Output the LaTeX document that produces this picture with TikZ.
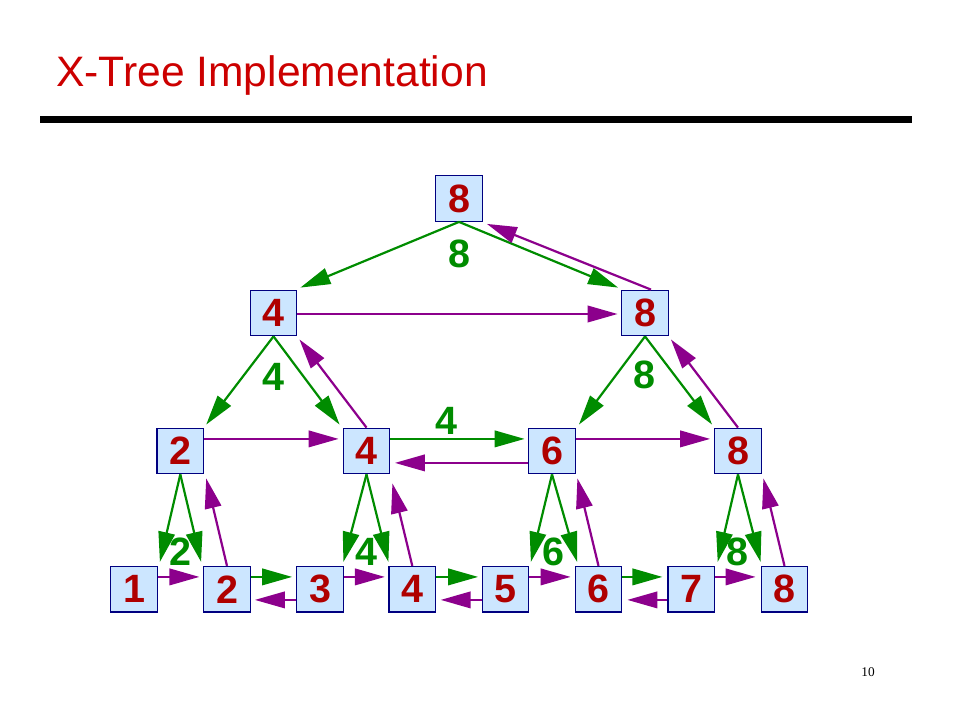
\documentclass[tikz,border=0pt]{standalone}
\usepackage{fontspec}
\setmainfont{Liberation Sans}
\newfontfamily\pnfont{Liberation Serif}
\usetikzlibrary{arrows.meta,calc}
\definecolor{boxfill}{RGB}{204,230,255}
\definecolor{boxdraw}{RGB}{0,0,128}
\definecolor{digred}{RGB}{175,0,0}
\definecolor{titlered}{RGB}{204,0,0}
\definecolor{gcol}{RGB}{0,140,0}
\definecolor{pcol}{RGB}{140,0,140}
\begin{document}
\begin{tikzpicture}[x=1pt,y=-1pt,
  xbox/.style={draw=boxdraw, fill=boxfill, line width=1.3pt, minimum width=46.5pt, minimum height=45.5pt, inner sep=0pt, text=digred, font=\fontsize{39.5}{42}\selectfont\bfseries},
  garr/.style={draw=gcol, line width=2.2pt, -{Triangle[length=30pt,width=16.5pt]}},
  parr/.style={draw=pcol, line width=2.2pt, -{Triangle[length=30pt,width=16.5pt]}},
  glab/.style={text=gcol, inner sep=0pt, font=\fontsize{39.5}{42}\selectfont\bfseries}]
\useasboundingbox (0,0) rectangle (960,720);
% title
\node[anchor=base west, inner sep=0pt, text=titlered, font=\fontsize{42.6}{48}\selectfont] (title) at (56,86.7) {X-Tree Implementation};
\fill (40,116) rectangle (912,123);
\node[inner sep=0pt, font=\pnfont\fontsize{13.3}{15}\selectfont] (pagenum) at (868,672) {10};
% nodes
\node[xbox] (r) at (459,198.5) {8};
\node[xbox] (a1) at (273.5,313) {4};
\node[xbox] (a2) at (645,313) {8};
\node[xbox] (c1) at (180.3,451) {2};
\node[xbox] (c2) at (366.5,451) {4};
\node[xbox] (c3) at (552,451) {6};
\node[xbox] (c4) at (738,451) {8};
\node[xbox] (b1) at (134,589.3) {1};
\node[xbox] (b2) at (227,589.3) {2};
\node[xbox] (b3) at (320,589.3) {3};
\node[xbox] (b4) at (412.3,589.3) {4};
\node[xbox] (b5) at (505.5,589.3) {5};
\node[xbox] (b6) at (598.5,589.3) {6};
\node[xbox] (b7) at (691.3,589.3) {7};
\node[xbox] (b8) at (784.5,589.3) {8};
% green tree-down arrows
\draw[garr] (r.south) -- ($(a1.north east)+(3,-2)$);
\draw[garr] (r.south) -- ($(a2.north west)+(-3,-2)$);
\draw[garr] (a1.south) -- ($(c1.north east)+(2,-3)$);
\draw[garr] (a1.south) -- ($(c2.north west)+(-3,-3)$);
\draw[garr] (a2.south) -- ($(c3.north east)+(3,-3)$);
\draw[garr] (a2.south) -- ($(c4.north west)+(-2,-3)$);
\draw[garr] (c1.south) -- ($(b1.north east)+(2,-4)$);
\draw[garr] (c1.south) -- ($(b2.north west)+(-2,-4)$);
\draw[garr] (c2.south) -- ($(b3.north east)+(-0.5,-4)$);
\draw[garr] (c2.south) -- ($(b4.north west)+(0,-4)$);
\draw[garr] (c3.south) -- ($(b5.north east)+(1.5,-4)$);
\draw[garr] (c3.south) -- ($(b6.north west)+(2.5,-4)$);
\draw[garr] (c4.south) -- ($(b7.north east)+(2.5,-4)$);
\draw[garr] (c4.south) -- ($(b8.north west)+(0,-4)$);
% purple upward arrows
\draw[parr] ($(a2.north)+(6,0)$) -- ($(r.south east)+(4,2)$);
\draw[parr] (c2.north) -- ($(a1.south east)+(2,3)$);
\draw[parr] (c4.north) -- ($(a2.south east)+(2,3)$);
\draw[parr] (b2.north) -- ($(c1.south east)+(2,4)$);
\draw[parr] (b4.north) -- ($(c2.south east)+(2,9)$);
\draw[parr] (b6.north) -- ($(c3.south east)+(1.5,4)$);
\draw[parr] (b8.north) -- ($(c4.south east)+(1.5,4)$);
% level 1 horizontal
\draw[parr, shorten >=3.5pt] ([yshift=-1pt]a1.east) -- ([yshift=-1pt]a2.west);
% level 2 horizontals
\draw[parr, shorten >=4pt] ([yshift=-11.3pt]c1.north east) -- ([yshift=-11.3pt]c2.north west);
\draw[garr, shorten >=3.5pt] ([yshift=-11.3pt]c2.north east) -- ([yshift=-11.3pt]c3.north west);
\draw[parr, shorten >=4pt] ([yshift=-11.3pt]c3.north east) -- ([yshift=-11.3pt]c4.north west);
\draw[parr, shorten >=4.5pt] ([yshift=-35.3pt]c3.north west) -- ([yshift=-35.3pt]c2.north east);
% bottom horizontals
\draw[parr, shorten >=3.7pt] ([yshift=-11pt]b1.north east) -- ([yshift=-11pt]b2.north west);
\draw[garr, shorten >=4pt] ([yshift=-11pt]b2.north east) -- ([yshift=-11pt]b3.north west);
\draw[parr, shorten >=3.5pt] ([yshift=-11pt]b3.north east) -- ([yshift=-11pt]b4.north west);
\draw[garr, shorten >=3.5pt] ([yshift=-11pt]b4.north east) -- ([yshift=-11pt]b5.north west);
\draw[parr, shorten >=4pt] ([yshift=-11pt]b5.north east) -- ([yshift=-11pt]b6.north west);
\draw[garr, shorten >=5pt] ([yshift=-11pt]b6.north east) -- ([yshift=-11pt]b7.north west);
\draw[parr, shorten >=5pt] ([yshift=-11pt]b7.north east) -- ([yshift=-11pt]b8.north west);
\draw[parr, shorten >=4pt] ([yshift=-34pt]b3.north west) -- ([yshift=-34pt]b2.north east);
\draw[parr, shorten >=4.5pt] ([yshift=-34pt]b5.north west) -- ([yshift=-34pt]b4.north east);
\draw[parr, shorten >=5pt] ([yshift=-34pt]b7.north west) -- ([yshift=-34pt]b6.north east);
% green labels
\node[glab] (l0) at (459.5,254) {8};
\node[glab] (l1) at (273,376.7) {4};
\node[glab] (l2) at (644,375) {8};
\node[glab] (l3) at (446.7,420.7) {4};
\node[glab] (l4) at (180,551.7) {2};
\node[glab] (l5) at (366.7,551.7) {4};
\node[glab] (l6) at (553.3,551.7) {6};
\node[glab] (l7) at (737.3,551.7) {8};
\end{tikzpicture}
\end{document}
